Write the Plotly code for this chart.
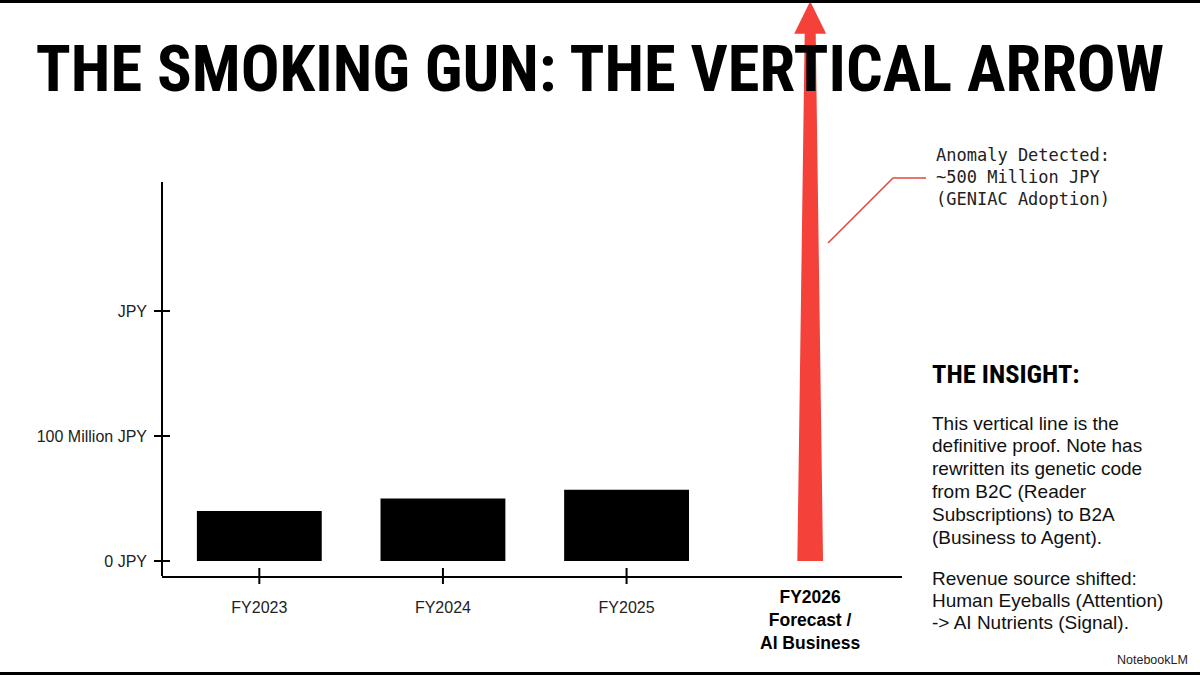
import plotly.graph_objects as go

# ---- data ----
years = ["FY2023", "FY2024", "FY2025", "FY2026"]
revenue = [40, 50, 57]          # million JPY
forecast = 500                  # million JPY (~500M, GENIAC adoption)
y_tickvals = [0, 100, 200]
y_ticktext = ["0 JPY", "100 Million JPY", "JPY"]
forecast_label = ["FY2026", "Forecast /", "AI Business"]
callout_lines = ["Anomaly Detected:", "~500 Million JPY", "(GENIAC Adoption)"]
insight_title = "THE INSIGHT:"
insight_para1 = ["This vertical line is the", "definitive proof. Note has",
                 "rewritten its genetic code", "from B2C (Reader",
                 "Subscriptions) to B2A", "(Business to Agent)."]
insight_para2 = ["Revenue source shifted:", "Human Eyeballs (Attention)",
                 "-> AI Nutrients (Signal)."]

# ---- geometry (pixels) ----
W, H = 1200, 675
L, R, T, B = 162, 298, 0, 99
PW, PH = W - L - R, H - T - B
Y_MIN, Y_MAX = -12, 448.8
AXIS_TOP = 303.2
RED = "#F4423A"
TITLE_FONT = "Liberation Sans Narrow, Roboto Condensed, DejaVu Sans Condensed, sans-serif"
BODY_FONT = "Liberation Sans, Arial, sans-serif"


def px_x(px):
    return (px - L) / PW


def px_y(py):
    return (H - B - py) / PH


x_idx = list(range(len(years)))

fig = go.Figure()

fig.add_trace(go.Bar(
    x=x_idx[:len(revenue)], y=revenue, width=0.68,
    marker=dict(color="black", line=dict(width=0)),
    hoverinfo="skip"))

# the vertical arrow for the forecast year
i = x_idx[-1]
tip = min(forecast, Y_MAX - 1)
neck = tip - 26
base_half, top_half, head_half = 0.07, 0.03, 0.087
arrow_x = [i - base_half, i - top_half, i - head_half, i, i + head_half,
           i + top_half, i + base_half, i - base_half]
arrow_y = [0, neck, neck, tip, neck, neck, 0, 0]
fig.add_trace(go.Scatter(
    x=arrow_x, y=arrow_y, mode="lines", fill="toself",
    fillcolor=RED, line=dict(color=RED, width=0), hoverinfo="skip"))

shapes = []
# y axis line (partial) and crossing tick marks
shapes.append(dict(type="line", xref="paper", yref="y", x0=0, x1=0,
                   y0=Y_MIN, y1=AXIS_TOP, line=dict(color="black", width=2)))
for v in y_tickvals:
    shapes.append(dict(type="line", xref="paper", yref="y", xsizemode="pixel",
                       xanchor=0, x0=-8, x1=8, y0=v, y1=v,
                       line=dict(color="black", width=2)))
for xv in x_idx[:len(revenue)]:
    shapes.append(dict(type="line", xref="x", yref="paper", ysizemode="pixel",
                       yanchor=0, y0=-8, y1=8, x0=xv, x1=xv,
                       line=dict(color="black", width=2)))
# callout leader line
shapes.append(dict(type="path", xref="paper", yref="paper",
                   path=f"M {px_x(828)} {px_y(243)} L {px_x(893)} {px_y(178)} L {px_x(926)} {px_y(178)}",
                   line=dict(color="#E0483F", width=1.5)))
# slide border bars
shapes.append(dict(type="rect", xref="paper", yref="paper",
                   x0=px_x(0), x1=px_x(W), y0=px_y(0), y1=px_y(3),
                   fillcolor="black", line=dict(width=0)))
shapes.append(dict(type="rect", xref="paper", yref="paper",
                   x0=px_x(0), x1=px_x(W), y0=px_y(672), y1=px_y(H),
                   fillcolor="black", line=dict(width=0)))

annotations = []
annotations.append(dict(
    xref="x", yref="paper", x=i, y=px_y(585), yanchor="top", showarrow=False,
    text="<b>" + "<br>".join(forecast_label) + "</b>",
    font=dict(family=BODY_FONT, size=17.5, color="black")))
annotations.append(dict(
    xref="paper", yref="paper", x=px_x(934), y=px_y(143), xanchor="left",
    yanchor="top", showarrow=False, align="left",
    text="<br>".join(callout_lines),
    font=dict(family="DejaVu Sans Mono, monospace", size=17, color="#222")))
annotations.append(dict(
    xref="paper", yref="paper", x=px_x(930), y=px_y(373), xanchor="left",
    yanchor="middle", showarrow=False,
    text="<b>" + insight_title + "</b>",
    font=dict(family=TITLE_FONT, size=26.5, color="black")))
for k, line in enumerate(insight_para1):
    annotations.append(dict(
        xref="paper", yref="paper", x=px_x(930), y=px_y(423 + 22.8 * k),
        xanchor="left", yanchor="middle", showarrow=False, text=line,
        font=dict(family=BODY_FONT, size=19, color="#111")))
for k, line in enumerate(insight_para2):
    annotations.append(dict(
        xref="paper", yref="paper", x=px_x(930), y=px_y(578 + 22.3 * k),
        xanchor="left", yanchor="middle", showarrow=False, text=line,
        font=dict(family=BODY_FONT, size=19, color="#111")))
annotations.append(dict(
    xref="paper", yref="paper", x=px_x(1190), y=px_y(660), xanchor="right",
    yanchor="middle", showarrow=False, text="NotebookLM",
    font=dict(family=BODY_FONT, size=12.5, color="#222")))

fig.update_layout(
    width=W, height=H,
    margin=dict(l=L, r=R, t=T, b=B),
    plot_bgcolor="white", paper_bgcolor="white",
    showlegend=False,
    title=dict(text="<b>THE SMOKING GUN: THE VERTICAL ARROW</b>",
               x=0.5, xref="container", xanchor="center",
               y=1 - 68 / H, yref="container", yanchor="middle",
               font=dict(family=TITLE_FONT, size=64.5, color="black")),
    xaxis=dict(range=[-0.53, 3.5], tickvals=x_idx[:len(revenue)],
               ticktext=years[:len(revenue)], showgrid=False, zeroline=False,
               showline=True, linecolor="black", linewidth=2, ticks="",
               ticklabelstandoff=16,
               tickfont=dict(family=BODY_FONT, size=16, color="#222")),
    yaxis=dict(range=[Y_MIN, Y_MAX], tickvals=y_tickvals, ticktext=y_ticktext,
               showgrid=False, zeroline=False, showline=False, ticks="",
               ticklabelstandoff=14,
               tickfont=dict(family=BODY_FONT, size=16, color="#222")),
    shapes=shapes,
    annotations=annotations,
)

# drop the default 8px body margin so the slide fills the window exactly
fig.write_html("out.html", config={"displayModeBar": False},
               post_script="document.body.style.margin='0';")
